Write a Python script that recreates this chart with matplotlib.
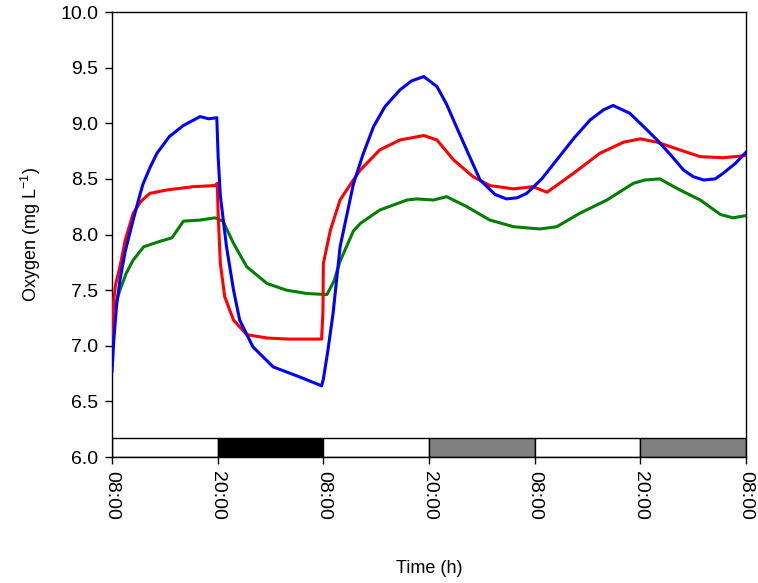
import matplotlib
matplotlib.use("Agg")
import matplotlib.pyplot as plt
from matplotlib.patches import Rectangle

plt.rcParams['font.family'] = ['Liberation Sans', 'DejaVu Sans']
plt.rcParams['mathtext.default'] = 'regular'

# hours since 08:00 on day 1
blue_t = [0, 0.2, 0.5, 0.9, 1.5, 2.4, 3.0, 3.5, 4.3, 5.1, 6.5, 8.1, 10.0, 11.0, 11.9, 12.05, 12.3, 13.0, 13.8, 14.5,
          16.0, 18.3, 21.3, 23.8, 24.0, 24.5, 25.1, 25.9, 27.4, 28.5, 29.7, 31.0, 32.7, 34.0, 35.4, 36.9,
          38.0, 39.1, 40.5, 41.8, 43.5, 44.8, 46.0, 47.1, 48.8, 50.5, 52.5, 54.3, 55.8, 56.9, 58.8, 60.5,
          61.9, 63.5, 64.9, 66.0, 67.2, 68.5, 69.4, 70.8, 72.0]
blue_v = [6.77, 7.05, 7.35, 7.59, 7.85, 8.13, 8.31, 8.45, 8.60, 8.73, 8.88, 8.98, 9.06, 9.04, 9.05, 8.70, 8.35, 7.89, 7.50, 7.23,
          6.99, 6.81, 6.72, 6.64, 6.70, 6.95, 7.29, 7.89, 8.45, 8.72, 8.97, 9.15, 9.30, 9.38, 9.42, 9.33,
          9.17, 8.97, 8.72, 8.49, 8.36, 8.32, 8.33, 8.37, 8.50, 8.67, 8.87, 9.03, 9.12, 9.16, 9.09, 8.96,
          8.85, 8.71, 8.58, 8.52, 8.49, 8.50, 8.55, 8.64, 8.74]

red_t = [0, 0.15, 0.4, 0.9, 1.5, 2.4, 3.3, 4.3, 6.2, 9.2, 11.7, 11.95, 12.05, 12.3, 12.8, 13.8, 15.3, 17.6,
         20.0, 23.8, 23.95, 24.0, 24.8, 25.9, 27.4, 28.2, 30.4, 32.7, 35.4, 36.9, 38.8, 41.0, 42.9, 45.6,
         47.8, 49.4, 52.4, 55.4, 58.1, 60.0, 61.9, 64.5, 66.8, 69.4, 72.0]
red_v = [6.99, 7.38, 7.55, 7.71, 7.95, 8.19, 8.30, 8.37, 8.40, 8.43, 8.44, 8.46, 8.19, 7.74, 7.44, 7.23, 7.10, 7.07,
         7.06, 7.06, 7.30, 7.74, 8.04, 8.31, 8.49, 8.58, 8.76, 8.85, 8.89, 8.85, 8.67, 8.52, 8.44, 8.41,
         8.43, 8.38, 8.55, 8.73, 8.83, 8.86, 8.83, 8.76, 8.70, 8.69, 8.71]

green_t = [0, 0.4, 0.9, 1.6, 2.4, 3.6, 5.5, 6.8, 7.5, 8.1, 10.0, 11.7, 12.6, 13.8, 15.3, 17.6, 19.8, 22.1,
           24.4, 25.2, 25.9, 27.4, 28.2, 30.4, 33.5, 34.6, 36.5, 38.0, 40.3, 42.9, 45.6, 48.6, 50.5, 53.1,
           56.2, 59.2, 60.5, 62.2, 64.5, 66.8, 69.1, 70.5, 72.0]
green_v = [7.32, 7.38, 7.50, 7.65, 7.77, 7.89, 7.94, 7.97, 8.05, 8.12, 8.13, 8.15, 8.12, 7.92, 7.71, 7.56, 7.50, 7.47,
           7.46, 7.58, 7.76, 8.03, 8.10, 8.22, 8.31, 8.32, 8.31, 8.34, 8.25, 8.13, 8.07, 8.05, 8.07, 8.19,
           8.31, 8.46, 8.49, 8.50, 8.40, 8.31, 8.18, 8.15, 8.17]

tick_hours = [0, 12, 24, 36, 48, 60, 72]
tick_labels = ["08:00", "20:00", "08:00", "20:00", "08:00", "20:00", "08:00"]

period_start = [0, 12, 24, 36, 48, 60]
period_color = ["white", "black", "white", "#808080", "white", "#808080"]

fig = plt.figure(figsize=(7.58, 5.83), dpi=100)
ax = fig.add_axes([0.1478, 0.2161, 0.8364, 0.7633])

bar_h = 0.17
for s, c in zip(period_start, period_color):
    ax.add_patch(Rectangle((s, 6.0), 12, bar_h, facecolor=c, edgecolor='black', linewidth=1.0, zorder=2))

ax.plot(green_t, green_v, color='#008000', lw=2.2, zorder=3)
ax.plot(red_t, red_v, color='#ff0000', lw=2.2, zorder=4)
ax.plot(blue_t, blue_v, color='#0000ff', lw=2.2, zorder=5)

ax.set_xlim(0, 72)
ax.set_ylim(6.0, 10.0)
ax.set_xticks(tick_hours)
ax.set_xticklabels(tick_labels, rotation=-90, fontsize=14)
ax.set_yticks([6.0, 6.5, 7.0, 7.5, 8.0, 8.5, 9.0, 9.5, 10.0])
ax.set_yticklabels(["6.0", "6.5", "7.0", "7.5", "8.0", "8.5", "9.0", "9.5", "10.0"], fontsize=14)
ax.tick_params(direction='out', length=5, width=1, top=False, right=False, pad=5)
for sp in ax.spines.values():
    sp.set_linewidth(1.0)

ax.set_xlabel("Time (h)", fontsize=13, labelpad=29)
ax.set_ylabel("Oxygen (mg L$^{-1}$)", fontsize=13, labelpad=12)

fig.savefig("out.png", dpi=100)
